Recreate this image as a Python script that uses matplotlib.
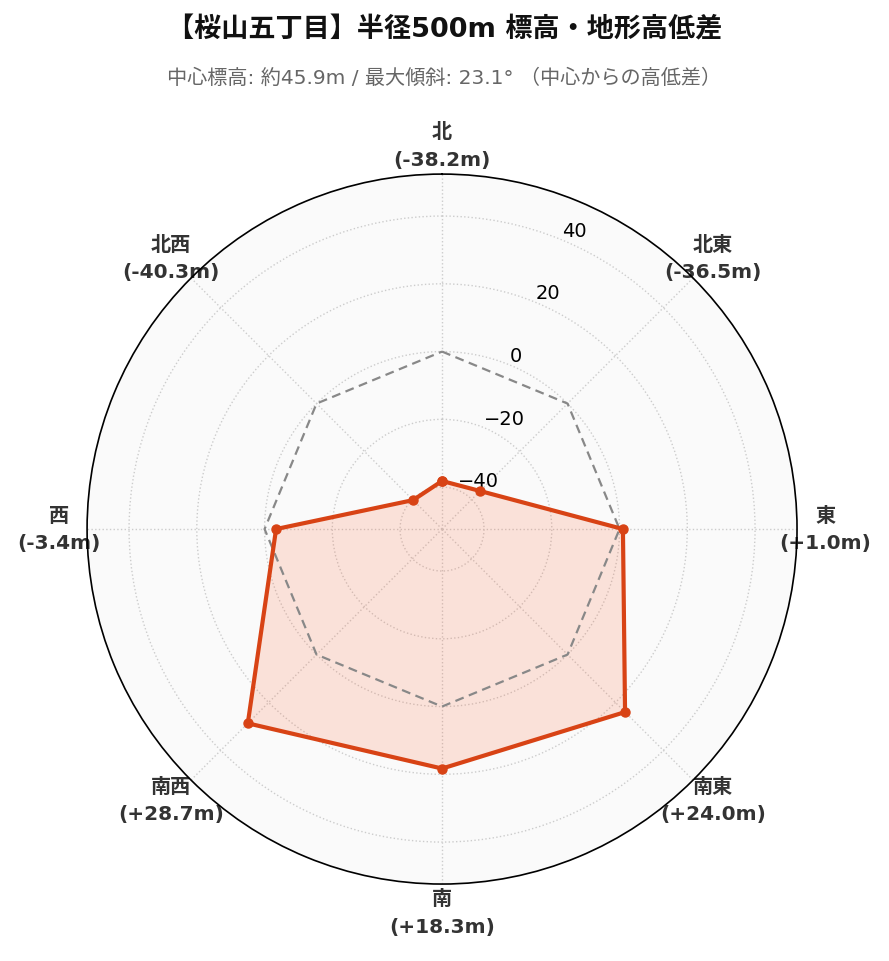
import numpy as np
import matplotlib
matplotlib.use("Agg")
import matplotlib.pyplot as plt

directions = ["北", "北東", "東", "南東", "南", "南西", "西", "北西"]
diffs = [-38.2, -36.5, 1.0, 24.0, 18.3, 28.7, -3.4, -40.3]
r_ticks = [-40, -20, 0, 20, 40]
title = "【桜山五丁目】半径500m 標高・地形高低差"
subtitle = "中心標高: 約45.9m / 最大傾斜: 23.1° （中心からの高低差）"

plt.rcParams["font.family"] = ["DejaVu Sans", "Noto Sans CJK JP"]

n = len(directions)
angles = np.linspace(0, 2 * np.pi, n, endpoint=False)
closed_a = np.append(angles, angles[0])
closed_v = np.append(diffs, diffs[0])
zero_v = np.zeros_like(closed_a)

lim = max(abs(v) for v in diffs) * 1.3

fig = plt.figure(figsize=(8.89, 9.62), dpi=100)
ax = fig.add_axes([0.0979, 0.080, 0.7987, 0.738], projection="polar")
ax.set_theta_offset(np.pi / 2)
ax.set_theta_direction(-1)
ax.set_facecolor("#fafafa")

ax.plot(closed_a, zero_v, color="#888888", lw=1.6, ls=(0, (4, 2.5)), zorder=3)
ax.fill(closed_a, closed_v, color="#ff5722", alpha=0.15, zorder=2)
ax.plot(closed_a, closed_v, color="#d84315", lw=3.0, marker="o", ms=6.5, zorder=4)

ax.set_ylim(-lim, lim)
ax.set_yticks(r_ticks)
ax.set_yticklabels([f"{t}".replace("-", "\u2212") for t in r_ticks], fontsize=14)
ax.set_rlabel_position(22.5)

labels = [f"{d}\n({v:+.1f}m)" for d, v in zip(directions, diffs)]
ax.set_xticks(angles)
ax.set_xticklabels(labels, fontsize=14.5, fontweight="bold", color="#333333",
                   linespacing=1.55)
ax.tick_params(axis="x", pad=10)

ax.grid(True, color="#cccccc", ls=":", lw=1.0)
ax.spines["polar"].set_color("black")
ax.spines["polar"].set_linewidth(1.2)

fig.text(0.5, 0.968, title, ha="center", va="center", fontsize=19.5,
         fontweight="bold", color="#111111")
fig.text(0.5, 0.919, subtitle, ha="center", va="center", fontsize=14.5,
         color="#666666")

fig.savefig("out.png", dpi=100, facecolor="white")
